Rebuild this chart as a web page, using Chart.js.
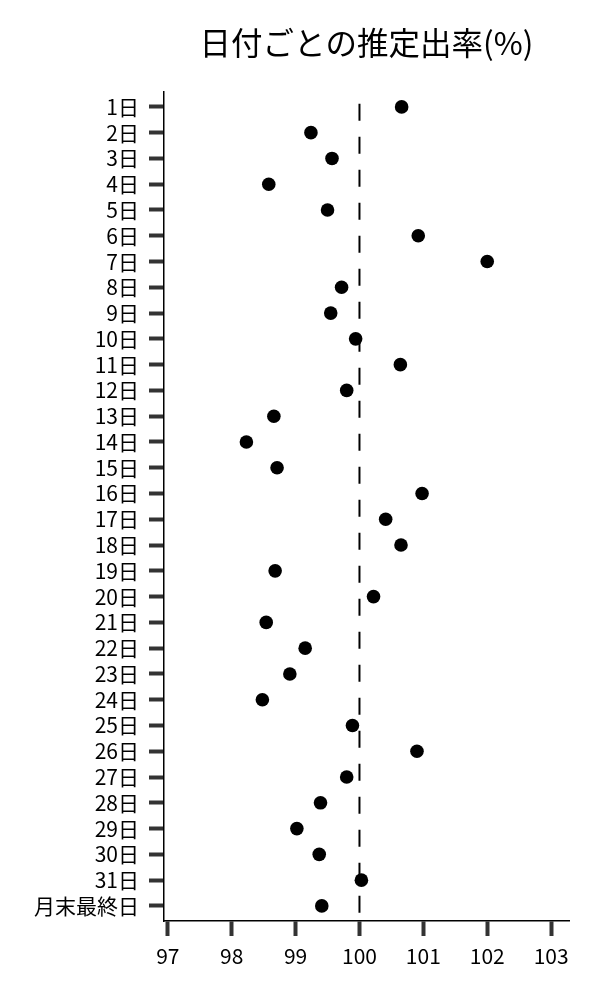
<!DOCTYPE html>
<html>
<head>
<meta charset="utf-8">
<script src="https://cdn.jsdelivr.net/npm/chart.js@4"></script>
<style>
  html, body { margin: 0; padding: 0; background: #fff; }
  #wrap { width: 600px; height: 1000px; }
</style>
</head>
<body>
<div id="wrap"><canvas id="dotChart"></canvas></div>
<script>
var DAYS = ["1日", "2日", "3日", "4日", "5日", "6日", "7日", "8日", "9日", "10日",
            "11日", "12日", "13日", "14日", "15日", "16日", "17日", "18日", "19日", "20日",
            "21日", "22日", "23日", "24日", "25日", "26日", "27日", "28日", "29日", "30日",
            "31日", "月末最終日"];
var RATES = [100.66, 99.24, 99.57, 98.58, 99.50, 100.92, 102.00, 99.72, 99.55, 99.94,
             100.64, 99.80, 98.66, 98.23, 98.71, 100.98, 100.41, 100.65, 98.68, 100.22,
             98.54, 99.15, 98.91, 98.48, 99.89, 100.90, 99.80, 99.39, 99.02, 99.37,
             100.03, 99.41];
var X_TICKS = [97, 98, 99, 100, 101, 102, 103];
var REF_LINE = 100;

var FONT = "'Noto Sans CJK JP', 'Noto Sans', sans-serif";

var points = RATES.map(function (v, i) { return { x: v, y: i }; });

var DOTCHART = document.getElementById('dotChart');

let dotChart = new Chart(DOTCHART, {
    type: 'scatter',
    data: {
        datasets: [{
            data: points,
            backgroundColor: '#000',
            borderWidth: 0,
            pointRadius: 6.8,
            pointHoverRadius: 6.8,
            order: 0
        }, {
            type: 'line',
            data: [{ x: REF_LINE, y: -0.12 }, { x: REF_LINE, y: DAYS.length - 0.42 }],
            borderColor: '#000',
            borderWidth: 2,
            borderDash: [17, 16],
            pointRadius: 0,
            fill: false,
            order: 1
        }]
    },
    options: {
        responsive: true,
        maintainAspectRatio: false,
        animation: false,
        layout: { padding: { left: 0, right: 31, top: 0, bottom: 0 } },
        plugins: {
            legend: { display: false },
            tooltip: { enabled: false },
            title: {
                display: true,
                text: '日付ごとの推定出率(%)',
                fullSize: false,
                color: '#000',
                font: { family: FONT, size: 31.5, weight: 'normal' },
                padding: { top: 24, bottom: 30 }
            }
        },
        scales: {
            x: {
                type: 'linear',
                min: 96.94,
                max: 103.28,
                afterBuildTicks: function (scale) {
                    scale.ticks = X_TICKS.map(function (v) { return { value: v }; });
                },
                afterFit: function (scale) { scale.height = 79; },
                grid: {
                    drawOnChartArea: false,
                    drawTicks: true,
                    tickLength: 15,
                    tickWidth: 4,
                    tickColor: '#333'
                },
                border: { color: '#000', width: 1.5 },
                ticks: {
                    color: '#000',
                    padding: 7,
                    font: { family: FONT, size: 21 },
                    callback: function (v) { return v; }
                }
            },
            y: {
                type: 'linear',
                reverse: true,
                min: -0.585,
                max: DAYS.length - 0.415,
                afterBuildTicks: function (scale) {
                    scale.ticks = DAYS.map(function (d, i) { return { value: i }; });
                },
                afterFit: function (scale) { scale.width = 164; },
                grid: {
                    drawOnChartArea: false,
                    drawTicks: true,
                    tickLength: 15,
                    tickWidth: 4,
                    tickColor: '#333'
                },
                border: { color: '#000', width: 1.5 },
                ticks: {
                    color: '#000',
                    padding: 10,
                    autoSkip: false,
                    font: { family: FONT, size: 21 },
                    callback: function (v) { return DAYS[v]; }
                }
            }
        }
    }
});
</script>
</body>
</html>
